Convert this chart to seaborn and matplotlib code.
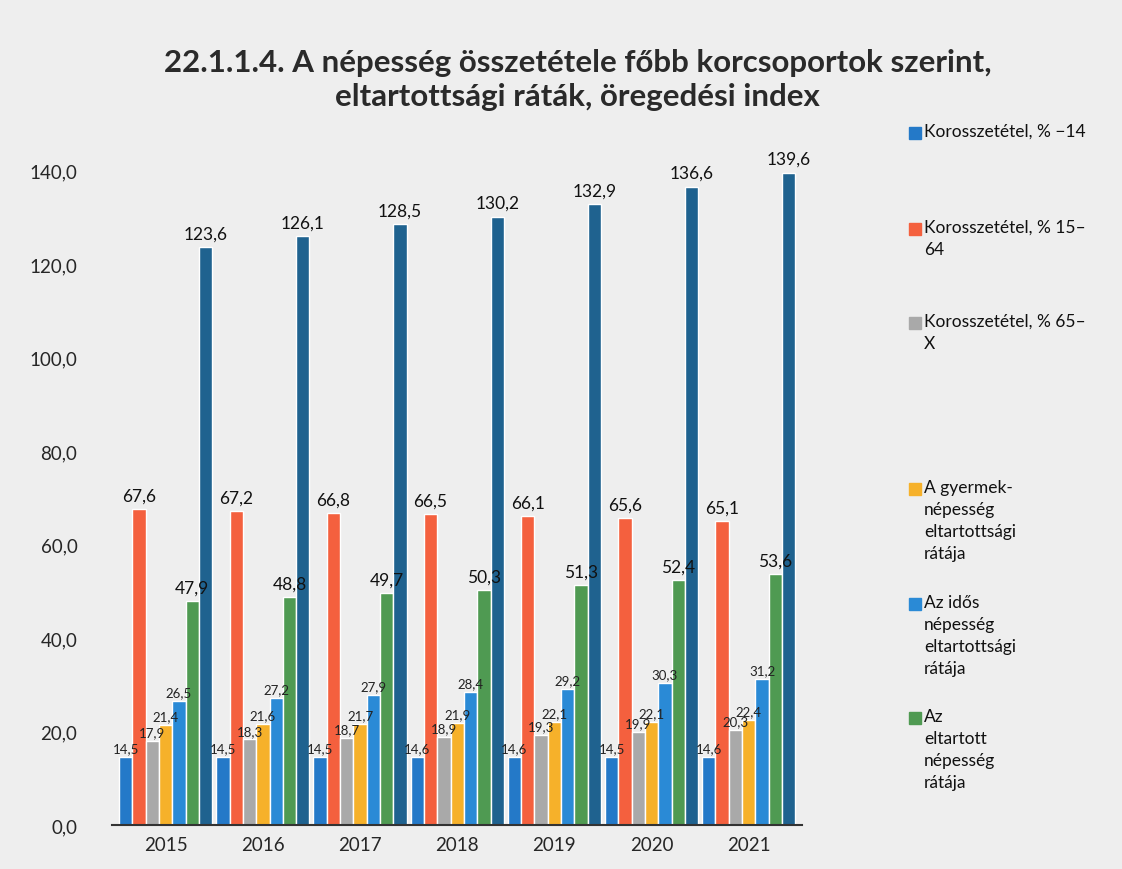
import matplotlib
matplotlib.use("Agg")
import matplotlib.pyplot as plt
from matplotlib.patches import Rectangle
import seaborn as sns
import pandas as pd

# Data
years = ["2015", "2016", "2017", "2018", "2019", "2020", "2021"]
kor_14 = [14.5, 14.5, 14.5, 14.6, 14.6, 14.5, 14.6]
kor_15_64 = [67.6, 67.2, 66.8, 66.5, 66.1, 65.6, 65.1]
kor_65 = [17.9, 18.3, 18.7, 18.9, 19.3, 19.9, 20.3]
gyermek = [21.4, 21.6, 21.7, 21.9, 22.1, 22.1, 22.4]
idos = [26.5, 27.2, 27.9, 28.4, 29.2, 30.3, 31.2]
eltartott = [47.9, 48.8, 49.7, 50.3, 51.3, 52.4, 53.6]
oregedesi = [123.6, 126.1, 128.5, 130.2, 132.9, 136.6, 139.6]

series = {
    "Korosszetétel, % −14": kor_14,
    "Korosszetétel, % 15–64": kor_15_64,
    "Korosszetétel, % 65–X": kor_65,
    "A gyermeknépesség eltartottsági rátája": gyermek,
    "Az idős népesség eltartottsági rátája": idos,
    "Az eltartott népesség rátája": eltartott,
    "Öregedési index": oregedesi,
}
legend_labels = [
    "Korosszetétel, % −14",
    "Korosszetétel, % 15–\n64",
    "Korosszetétel, % 65–\nX",
    "A gyermek-\nnépesség\neltartottsági\nrátája",
    "Az idős\nnépesség\neltartottsági\nrátája",
    "Az\neltartott\nnépesség\nrátája",
]
colors = ["#2479c8", "#f4603e", "#a9a9a9", "#f6b12a", "#2a8ad6", "#4f9a52", "#1f628f"]

rows = []
for name, vals in series.items():
    for y, v in zip(years, vals):
        rows.append({"year": y, "series": name, "value": v})
df = pd.DataFrame(rows)

sns.set_style("white")
plt.rcParams["font.family"] = ["Lato", "DejaVu Sans"]

fig = plt.figure(figsize=(11.22, 8.7), dpi=100, facecolor="#eeeeee")
ax = fig.add_axes([0.100, 0.0506, 0.615, 0.752])
ax.set_facecolor("#eeeeee")

sns.barplot(data=df, x="year", y="value", hue="series", palette=colors,
            width=0.96, ax=ax, legend=False, saturation=1)

# small bars get smaller labels (they crowd together in the original too)
for i, cont in enumerate(ax.containers):
    labs = [f"{b.get_height():.1f}".replace(".", ",") for b in cont]
    if i in (1, 5, 6):
        ax.bar_label(cont, labels=labs, padding=4, fontsize=12.5, color="#111111")
    else:
        ax.bar_label(cont, labels=labs, padding=2, fontsize=9.5, color="#222222")

ax.set_ylim(0, 140)
ax.set_xlim(-0.55, 6.55)
ax.set_yticks(range(0, 141, 20))
ax.set_yticklabels([f"{v:.1f}".replace(".", ",") for v in range(0, 141, 20)], fontsize=13.5)
ax.tick_params(axis="x", labelsize=13.5, length=0, pad=8)
ax.tick_params(axis="y", length=0, pad=25)
ax.set_xlabel("")
ax.set_ylabel("")
for s in ["top", "right", "left"]:
    ax.spines[s].set_visible(False)
ax.spines["bottom"].set_color("#333333")
ax.spines["bottom"].set_linewidth(1.5)

fig.text(0.515, 0.908, "22.1.1.4. A népesség összetétele főbb korcsoportok szerint,\neltartottsági ráták, öregedési index",
         ha="center", va="center", fontsize=22.5, fontweight="bold", color="#2a2a2a", linespacing=1.25)

# legend, placed like the original
leg_y = [132, 228, 322, 488, 603, 717]
for lab, c, yp in zip(legend_labels, colors, leg_y):
    fig.patches.append(Rectangle((909 / 1122, 1 - (yp + 8) / 870), 12 / 1122, 12 / 870,
                                 transform=fig.transFigure, color=c))
    fig.text(924 / 1122, 1 - (yp - 8) / 870, lab, ha="left", va="top", fontsize=12.5,
             color="#111111", linespacing=1.45)

fig.savefig("out.png", dpi=100, facecolor=fig.get_facecolor())
